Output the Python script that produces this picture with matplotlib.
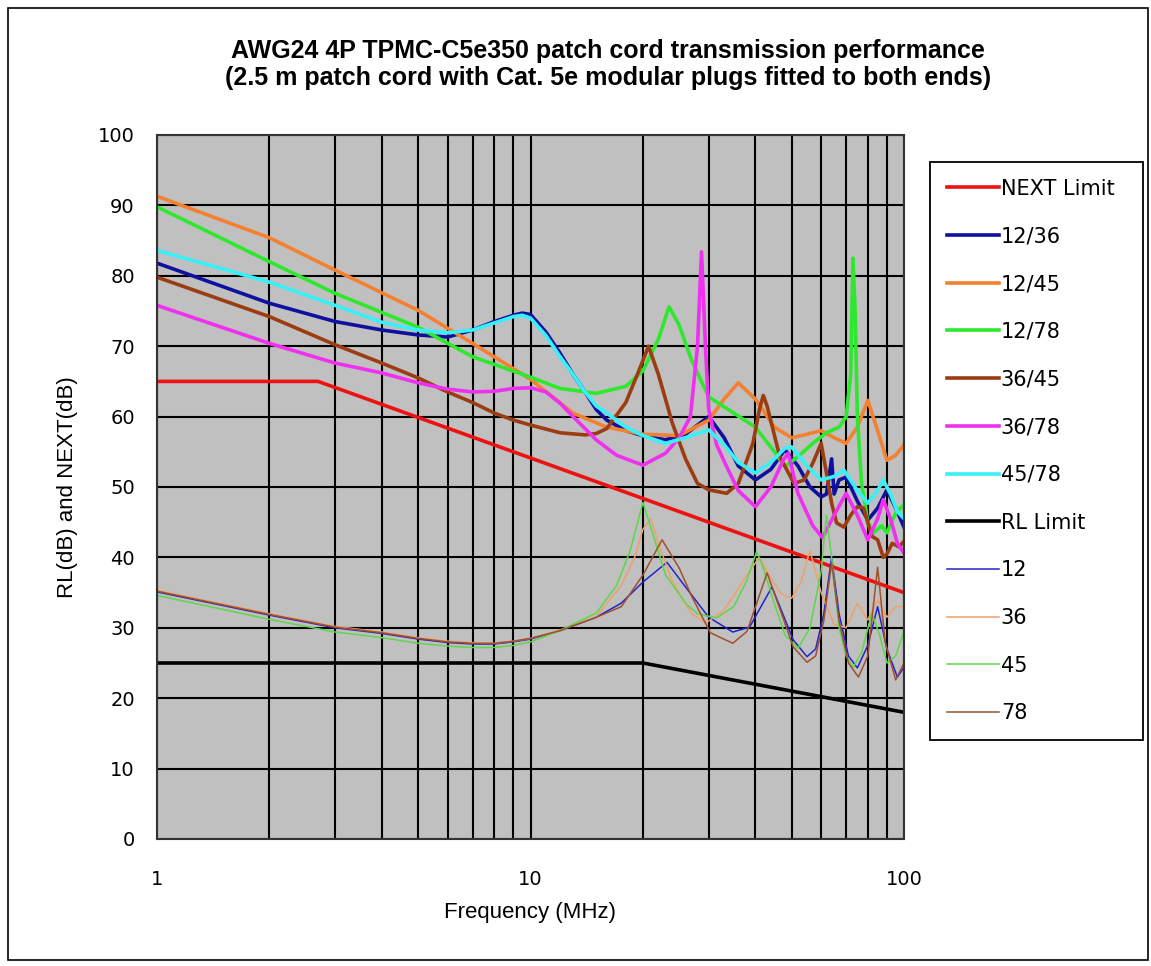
import matplotlib
matplotlib.use("Agg")
import matplotlib.pyplot as plt
from matplotlib.patches import Rectangle
from matplotlib.ticker import FixedLocator, NullFormatter, LogLocator

# limits
next_limit_f = [1, 2.7, 100]
next_limit = [65, 65, 35]
rl_limit_f = [1, 20, 100]
rl_limit = [25, 25, 18]

# NEXT pairs
f_1236 = [1, 2, 3, 4, 5, 6, 7, 8, 9, 9.5, 10, 11, 12, 13, 14, 15, 16, 18, 20, 23, 26, 30, 33, 36, 40,
          44, 48, 52, 56, 60, 62, 64, 65, 67, 70, 75, 80, 85, 90, 95, 100]
v_1236 = [81.8, 76.1, 73.5, 72.3, 71.6, 71.3, 72.3, 73.5, 74.4, 74.7, 74.5, 72, 69, 66, 63.5, 61, 59.5, 58, 57.3, 56.7, 57.5, 60, 57, 53, 51,
          52.5, 55.3, 53, 50, 48.6, 49, 54, 49, 51, 51.4, 48, 45.3, 47, 49.6, 47, 44.3]

f_1245 = [1, 2, 3, 5, 7, 10, 13, 16, 20, 25, 30, 33, 36, 40, 45, 50, 55, 60, 65, 70, 75, 80, 85, 90, 95, 100]
v_1245 = [91.3, 85.4, 80.8, 75.1, 70.4, 65.3, 60.5, 58.5, 57.5, 57.3, 59.5, 62.5, 64.8, 62.5, 58.5, 57.0, 57.5, 58.0, 57.0, 56.2,
          58.5, 62.3, 58.0, 53.8, 54.5, 56.0]

f_1278 = [1, 2, 3, 5, 7, 10, 12, 15, 18, 20, 22, 23.5, 25, 27, 30, 35, 40, 45, 48, 52, 57, 62, 67, 70, 72, 73, 74, 75,
          77, 80, 83, 87, 90, 95, 100]
v_1278 = [89.8, 82, 77.5, 72.7, 68.5, 65.6, 64, 63.3, 64.3, 66.5, 71, 75.6, 73, 68, 62.8, 60.5, 58.5, 55, 52.9, 54.3, 56.2, 57.7, 58.5, 60, 66, 82.5, 75, 60,
          50.5, 45, 43.5, 44.5, 43.5, 46.3, 47.5]

f_3645 = [1, 2, 3, 4, 5, 6, 7, 8, 9, 10, 12, 14, 15, 16, 18, 19.5, 20.7, 22, 24, 26, 28, 30, 33.5, 36, 39.4, 41, 42, 43,
          46.5, 50.8, 54, 57, 60, 62, 64, 66, 69, 72, 75, 78, 82, 85, 88, 90, 93, 97, 100]
v_3645 = [79.8, 74.2, 70.2, 67.6, 65.5, 63.5, 62, 60.5, 59.5, 58.8, 57.7, 57.4, 57.6, 58.3, 62, 66.5, 70, 66, 59, 54, 50.5, 49.6, 49.1, 50.5, 56.2, 61, 63, 61.5,
          54.3, 50.5, 51, 53.4, 56.2, 52, 47.7, 44.9, 44.3, 46, 47.2, 47, 43, 42.5, 40, 40.5, 42, 41.5, 42.3]

f_3678 = [1, 2, 3, 4, 5, 6, 7, 8, 9, 10, 11, 12, 13, 15, 17, 20, 23, 25, 26.8, 28, 28.7, 29.4, 30, 31.5, 33.5, 36, 40,
          44, 47.5, 49, 52, 57, 60.5, 65, 70, 75, 80, 85, 88, 92, 96, 100]
v_3678 = [75.8, 70.4, 67.6, 66.2, 64.8, 63.9, 63.5, 63.6, 64, 64.1, 63.5, 61.9, 60, 56.7, 54.5, 53.1, 54.8, 57, 60, 70, 83.4, 70, 61, 56, 52.9, 49.5, 47.2,
          50, 53.8, 54.8, 49.1, 44.5, 42.8, 46, 49.1, 46, 42.5, 45.5, 48.2, 45.5, 42, 40.6]

f_4578 = [1, 2, 3, 4, 5, 6, 7, 8, 9, 9.5, 10, 11, 12, 13, 14, 15, 16, 18, 20, 23, 26, 30, 33, 36, 40, 44, 48, 50,
          55, 60, 65, 69, 75, 80, 85, 88, 92, 96, 100]
v_4578 = [83.6, 79.1, 75.8, 73.4, 72.3, 71.9, 72.3, 73.3, 74.2, 74.4, 74, 71.5, 68.5, 66, 63.5, 61.5, 60.5, 58.5, 57.3, 56.2, 57, 58.1, 56, 53.5, 52, 53.5, 55.5, 55.7,
          53, 51, 51.5, 52.4, 49.5, 47.7, 49.5, 51, 49, 46.5, 45.5]

# return loss per pair
f_12 = [1, 2, 3, 4, 5, 6, 7, 8, 9, 10, 12, 15, 17.5, 20, 23.2, 26, 30, 34.8, 38.6, 44.3, 50.5, 55, 58, 61, 64,
        67, 71, 75, 80, 85, 90, 96, 100]
v_12 = [35.1, 31.8, 30, 29.2, 28.4, 27.9, 27.7, 27.7, 28, 28.4, 29.6, 31.5, 33.5, 36.5, 39.3, 35.8, 31.5, 29.4, 30.1, 35.8, 28.3, 25.9, 27, 32, 40,
        32, 26, 24.3, 27.5, 33, 27, 23, 24.4]

f_36 = [1, 2, 3, 4, 5, 6, 7, 8, 9, 10, 12, 15, 17.5, 19, 20, 21, 22, 24, 27, 29.5, 33, 38, 41, 44, 47, 50, 53,
        56, 60, 65, 70, 75, 80, 85, 90, 95, 100]
v_36 = [35.3, 32, 30.2, 29.4, 28.6, 28.1, 27.9, 27.8, 28.1, 28.5, 29.7, 31.6, 36, 40, 44, 45.5, 42, 36.5, 32, 30.7, 32.5, 37.5, 40, 37, 34.8, 34.2, 36.5,
        41, 35, 30.5, 30, 33.5, 31.1, 34, 31.5, 33, 33]

f_45 = [1, 2, 3, 4, 5, 6, 7, 8, 9, 10, 12, 15, 17, 18.5, 20, 21.5, 23, 26, 28, 31.5, 35, 38, 40.3, 42, 44.6, 48,
        52, 56, 60, 62, 64, 67, 70, 73, 77, 82, 86, 90, 95, 100]
v_45 = [34.6, 31.2, 29.4, 28.6, 27.8, 27.4, 27.2, 27.2, 27.5, 28, 29.6, 32.1, 36, 41, 47.8, 42.5, 37.5, 33.5, 32, 31.4, 33, 36.8, 40.8, 38.5, 34, 29,
        27.1, 30, 38, 46, 40, 30, 26, 24.3, 26.5, 32.1, 29, 25, 26, 29.5]

f_78 = [1, 2, 3, 4, 5, 6, 7, 8, 9, 10, 12, 15, 17.5, 20, 22.5, 25, 27, 30.3, 34.8, 38, 43, 47, 50.5, 55, 58, 61,
        64, 67, 71, 75.5, 80, 85, 89, 95, 100]
v_78 = [35.2, 31.9, 30.1, 29.3, 28.5, 28, 27.8, 27.8, 28.1, 28.5, 29.6, 31.5, 33, 37.5, 42.5, 38.5, 34.5, 29.3, 27.8, 29.5, 37.8, 32, 27.3, 25.1, 26, 31,
        39.2, 31, 25, 23, 26, 38.6, 28, 22.6, 25]

series = [
    ("NEXT Limit", next_limit_f, next_limit, "#ee1111", 2.6),
    ("12/36", f_1236, v_1236, "#1010a0", 2.6),
    ("12/45", f_1245, v_1245, "#f58030", 2.6),
    ("12/78", f_1278, v_1278, "#2ee82e", 2.6),
    ("36/45", f_3645, v_3645, "#9c3c12", 2.6),
    ("36/78", f_3678, v_3678, "#f030f0", 2.6),
    ("45/78", f_4578, v_4578, "#38f0f8", 2.6),
    ("RL Limit", rl_limit_f, rl_limit, "#000000", 2.6),
    ("12", f_12, v_12, "#2424c8", 1.1),
    ("36", f_36, v_36, "#f0a068", 1.1),
    ("45", f_45, v_45, "#5cd848", 1.1),
    ("78", f_78, v_78, "#a0502c", 1.1),
]

fig = plt.figure(figsize=(11.51, 9.66), dpi=100)
ax = fig.add_axes([157 / 1151, 1 - 839 / 966, (904 - 157) / 1151, (839 - 135) / 966])
ax.set_facecolor("#c0c0c0")

for name, f, v, c, lw in series:
    ax.plot(f, v, color=c, lw=lw, label=name, solid_joinstyle="round")

ax.set_xscale("log")
ax.set_xlim(1, 100)
ax.set_ylim(0, 100)
ax.xaxis.set_major_locator(FixedLocator([1, 10, 100]))
ax.xaxis.set_minor_locator(LogLocator(base=10, subs=range(2, 10)))
ax.xaxis.set_minor_formatter(NullFormatter())
ax.set_xticklabels(["1", "10", "100"])
ax.set_yticks(range(0, 101, 10))
ax.grid(True, which="both", axis="x", color="black", lw=1.5)
ax.grid(True, which="major", axis="y", color="black", lw=1.5)
ax.set_axisbelow(True)
for s in ax.spines.values():
    s.set_color("#333333")
    s.set_linewidth(1.5)

tick_font = ["DejaVu Sans"]
ax.tick_params(which="both", length=0)
ax.tick_params(axis="x", pad=22)
ax.tick_params(axis="y", pad=16)
for lab in ax.get_xticklabels() + ax.get_yticklabels():
    lab.set_fontfamily(tick_font)
    lab.set_fontsize(14)

ax.set_xlabel("Frequency (MHz)", fontsize=16, family="Liberation Sans", labelpad=10)
ax.set_ylabel("RL(dB) and NEXT(dB)", fontsize=16, family="Liberation Sans", labelpad=14)

fig.text(608 / 1151, 1 - 51 / 966, "AWG24 4P TPMC-C5e350 patch cord transmission performance",
         ha="center", va="center", fontsize=18, weight="bold", family="Liberation Sans")
fig.text(608 / 1151, 1 - 78 / 966, "(2.5 m patch cord with Cat. 5e modular plugs fitted to both ends)",
         ha="center", va="center", fontsize=18, weight="bold", family="Liberation Sans")

leg = ax.legend(loc="upper left", bbox_to_anchor=(930 / 1151, 1 - 162 / 966, 213 / 1151, 0.0),
                bbox_transform=fig.transFigure, mode="expand",
                fancybox=False, framealpha=1, edgecolor="black", borderaxespad=0,
                prop={"family": tick_font, "size": 15}, handlelength=2.5, handletextpad=0.1,
                labelspacing=1.33, borderpad=0.8)
leg.get_frame().set_linewidth(1.3)

fig.patches.append(Rectangle((8 / 1151, 6 / 966), 1140 / 1151, 952 / 966, transform=fig.transFigure,
                             fill=False, edgecolor="black", lw=1.2))

fig.savefig("out.png", dpi=100, facecolor="white")
